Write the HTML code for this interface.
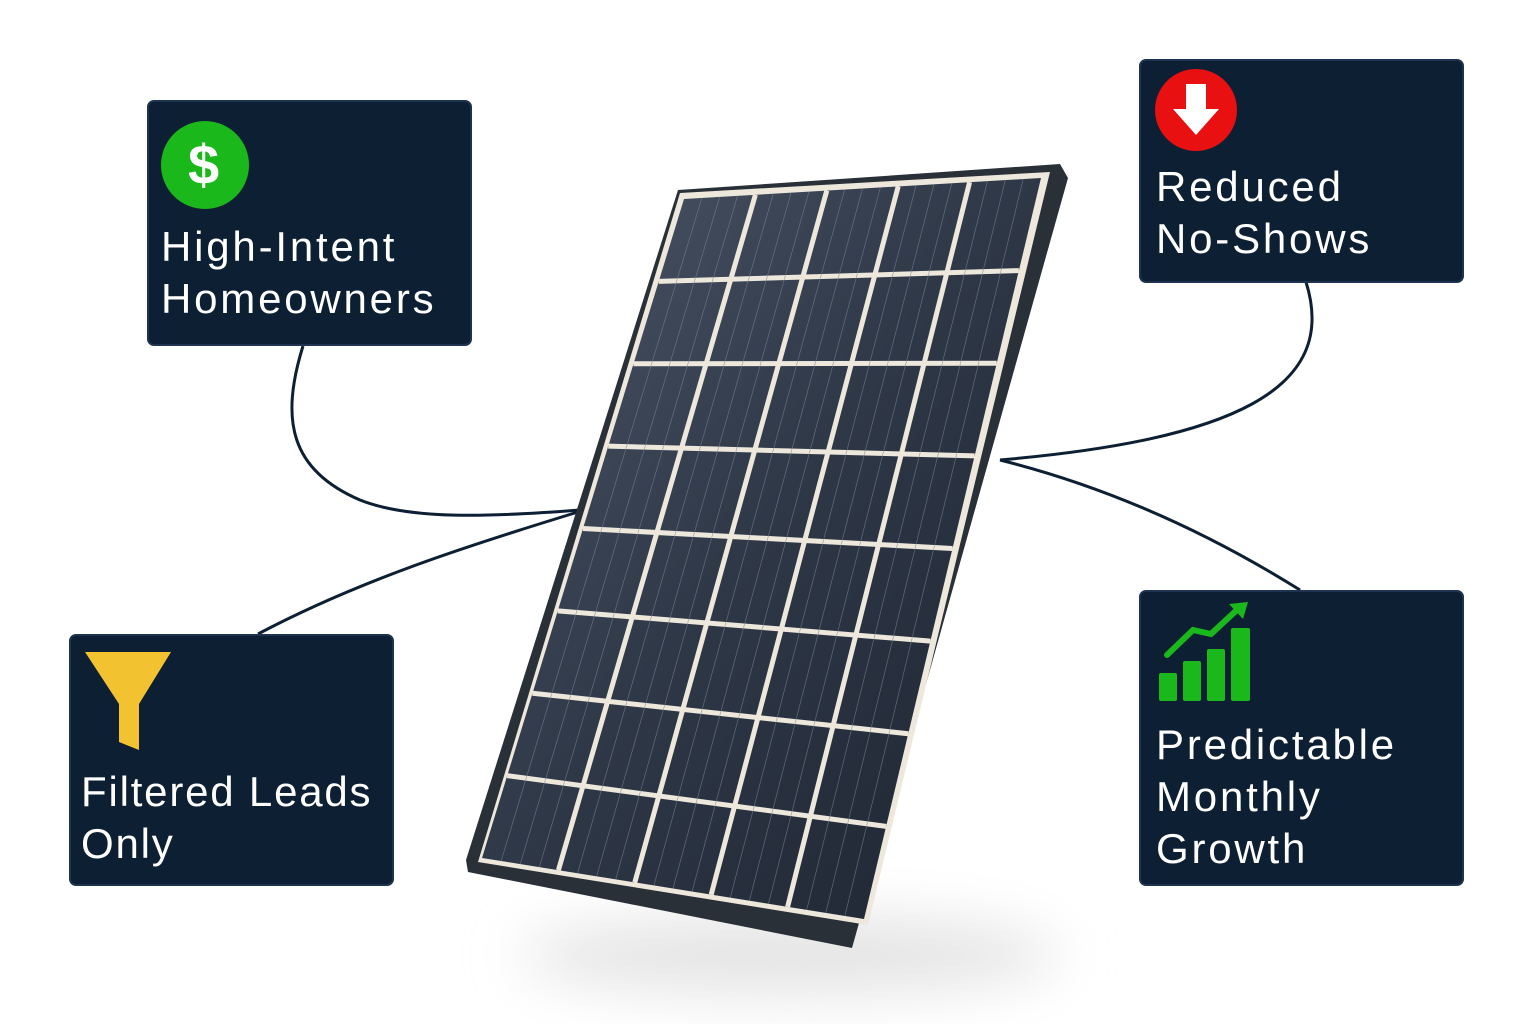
<!DOCTYPE html>
<html><head><meta charset="utf-8"><style>
html,body{margin:0;padding:0;background:#fff;width:1536px;height:1024px;overflow:hidden;font-family:"Liberation Sans",sans-serif}
.box{position:absolute;background:#0d1f33;border:2px solid #1d3350;border-radius:7px;box-sizing:border-box;color:#fff;font-size:42px;line-height:52px;letter-spacing:2.8px}
.box .t{position:absolute;left:12px}
</style></head><body>
<svg width="1536" height="1024" style="position:absolute;left:0;top:0">
<defs><filter id="bl" x="-50%" y="-200%" width="200%" height="500%"><feGaussianBlur stdDeviation="28"/></filter>
<linearGradient id="cg" x1="0" y1="0" x2="1" y2="1"><stop offset="0" stop-color="#4d5869"/><stop offset="0.5" stop-color="#2e3746"/><stop offset="1" stop-color="#1d2431"/></linearGradient></defs>
<ellipse cx="790" cy="955" rx="270" ry="40" fill="#e4e4e4" filter="url(#bl)"/>
<g fill="none" stroke="#0d1f33" stroke-width="3">
<path d="M303 346 C280 420 290 470 360 500 C410 520 490 517 580 510"/>
<path d="M258 634 C360 580 470 545 578 512"/>
<path d="M1306 282 C1340 390 1230 440 1000 460"/>
<path d="M1000 460 C1120 490 1220 540 1300 590"/>
</g>
<polygon points="678,190 1060,164 1068,178 852,948 468,872 466,860" fill="#2a3038"/>
<polygon points="680,193 1050,172 868,925 478,862" fill="#eee8dc"/>
<polygon points="684,199 1041,178 864,919 482,858" fill="url(#cg)"/>
<g id="cells"></g>
</svg>
<script>
var TL=[684,199],TR=[1041,178],BR=[864,919],BL=[482,858];
function P(u,v){var tx=TL[0]+(TR[0]-TL[0])*u,ty=TL[1]+(TR[1]-TL[1])*u,bx=BL[0]+(BR[0]-BL[0])*u,by=BL[1]+(BR[1]-BL[1])*u;return [tx+(bx-tx)*v,ty+(by-ty)*v];}
var s='';
for(var i=1;i<5;i++){var a=P(i/5,0),b=P(i/5,1);s+='<line x1="'+a[0]+'" y1="'+a[1]+'" x2="'+b[0]+'" y2="'+b[1]+'" stroke="#eee8dc" stroke-width="5"/>';}
for(var j=1;j<8;j++){var a=P(0,j/8),b=P(1,j/8);s+='<line x1="'+a[0]+'" y1="'+a[1]+'" x2="'+b[0]+'" y2="'+b[1]+'" stroke="#eee8dc" stroke-width="5"/>';}
for(var i=0;i<5;i++)for(var k=1;k<4;k++){var uu=(i+k/4)/5;var p=P(uu,0),q=P(uu,1);s+='<line x1="'+p[0]+'" y1="'+p[1]+'" x2="'+q[0]+'" y2="'+q[1]+'" stroke="#7a8495" stroke-width="0.7" opacity="0.7"/>';}
document.getElementById('cells').innerHTML=s;
</script>

<div class="box" style="left:147px;top:100px;width:325px;height:246px">
<svg width="100" height="100" style="position:absolute;left:10px;top:18px"><circle cx="46" cy="45" r="44" fill="#1bb81b"/><text x="46" y="64" text-anchor="middle" font-family="Liberation Sans" font-weight="bold" font-size="56" fill="#fff">$</text></svg>
<div class="t" style="top:119px">High-Intent<br>Homeowners</div></div>

<div class="box" style="left:1139px;top:59px;width:325px;height:224px">
<svg width="100" height="100" style="position:absolute;left:12px;top:6px"><circle cx="43" cy="43" r="41" fill="#e81010"/><path d="M33 17 H53 V42 H66 L43 68 L20 42 H33 Z" fill="#fff"/></svg>
<div class="t" style="top:100px;left:15px">Reduced<br>No-Shows</div></div>

<div class="box" style="left:69px;top:634px;width:325px;height:252px">
<svg width="100" height="110" style="position:absolute;left:12px;top:14px"><path d="M2 2 H88 L56 54 V100 L36 92 V54 Z" fill="#f2c230"/></svg>
<div class="t" style="top:130px;left:10px;letter-spacing:1.8px">Filtered Leads<br>Only</div></div>

<div class="box" style="left:1139px;top:590px;width:325px;height:296px">
<svg width="120" height="120" style="position:absolute;left:0;top:0" fill="#1bb81b">
<rect x="18" y="81" width="18" height="28" rx="2"/><rect x="42" y="69" width="18" height="40" rx="2"/><rect x="66" y="57" width="18" height="52" rx="2"/><rect x="90" y="36" width="19" height="73" rx="2"/>
<path d="M26 63 L52 38 L70 42 L98 16" fill="none" stroke="#1bb81b" stroke-width="6" stroke-linecap="round"/>
<path d="M107 10 L88 12 L102 27 Z"/></svg>
<div class="t" style="top:127px;left:15px">Predictable<br>Monthly<br>Growth</div></div>
</body></html>
